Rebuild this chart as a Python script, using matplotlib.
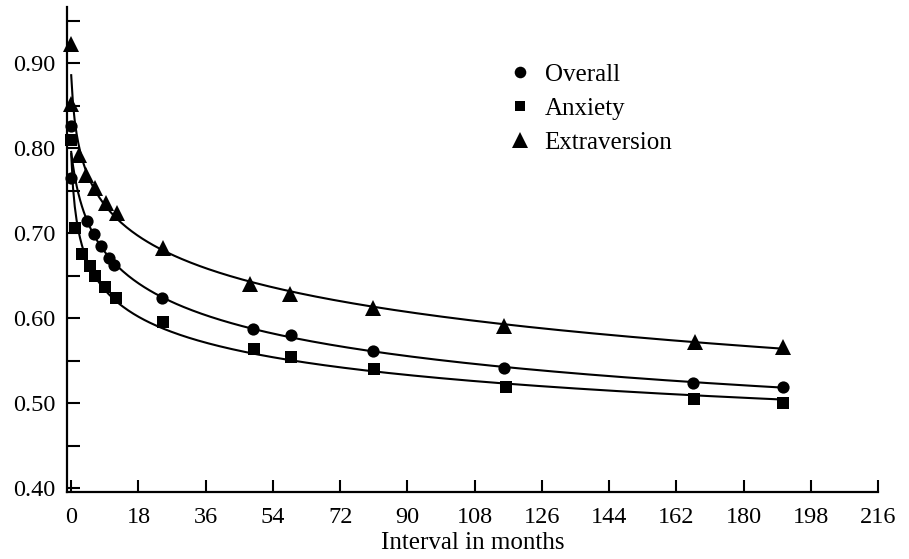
import numpy as np
import matplotlib
matplotlib.use("Agg")
import matplotlib.pyplot as plt
from matplotlib.lines import Line2D
from matplotlib.ticker import FormatStrFormatter

plt.rcParams['font.family'] = ['Liberation Serif', 'DejaVu Serif']

# ---- data ----
months_overall = [0, 0, 4.3, 6.2, 7.9, 10.2, 11.5, 24.4, 48.6, 58.8, 80.8, 116.0, 166.5, 190.5]
overall = [0.826, 0.765, 0.714, 0.699, 0.685, 0.671, 0.663, 0.6235, 0.587, 0.580, 0.562, 0.542, 0.5235, 0.519]

months_anxiety = [0, 1.0, 3.0, 4.9, 6.4, 9.1, 11.9, 24.7, 49.0, 58.8, 81.2, 116.4, 166.7, 190.5]
anxiety = [0.809, 0.706, 0.676, 0.661, 0.650, 0.637, 0.6235, 0.596, 0.564, 0.554, 0.540, 0.5195, 0.505, 0.500]

months_extra = [0, 0, 2.2, 4.0, 6.4, 9.3, 12.2, 24.5, 48.0, 58.6, 80.7, 115.9, 167.0, 190.5]
extraversion = [0.922, 0.852, 0.792, 0.769, 0.753, 0.735, 0.724, 0.682, 0.640, 0.629, 0.612, 0.591, 0.5725, 0.5666]

series_names = ["Overall", "Anxiety", "Extraversion"]
x_ticks = [0, 18, 36, 54, 72, 90, 108, 126, 144, 162, 180, 198, 216]
y_major = [0.40, 0.50, 0.60, 0.70, 0.80, 0.90]
y_minor = [0.45, 0.55, 0.65, 0.75, 0.85, 0.95]


def fit_curve(t, y):
    """Least-squares fit of y as a quadratic in log(t + c), c by grid search."""
    t = np.asarray(t, float)
    y = np.asarray(y, float)
    best = None
    for c in np.linspace(0.5, 12, 116):
        X = np.log(t + c)
        p = np.polyfit(X, y, 2)
        sse = np.sum((np.polyval(p, X) - y) ** 2)
        if best is None or sse < best[0]:
            best = (sse, p, c)
    _, p, c = best
    return lambda tt: np.polyval(p, np.log(tt + c))


fig = plt.figure(figsize=(9.09, 5.59), dpi=100)
ax = fig.add_axes([0.0734, 0.1204, 0.8925, 0.8671])

specs = [
    (months_overall, overall, 'o', 8.8),
    (months_anxiety, anxiety, 's', 8.2),
    (months_extra, extraversion, '^', 11.5),
]
for t, y, mk, ms in specs:
    f = fit_curve(t, y)
    tt = np.linspace(0, max(t), 400)
    ax.plot(tt, f(tt), color='black', lw=1.5, zorder=2)
    ax.plot(t, y, linestyle='none', marker=mk, ms=ms, color='black',
            markeredgewidth=0, zorder=3, clip_on=False)

ax.set_xlim(-1.2, 216)
ax.set_ylim(0.396, 0.966)
for s in ['top', 'right']:
    ax.spines[s].set_visible(False)
for s in ['left', 'bottom']:
    ax.spines[s].set_linewidth(1.6)

ax.set_xticks(x_ticks)
ax.set_yticks(y_major)
ax.set_yticks(y_minor, minor=True)
ax.yaxis.set_major_formatter(FormatStrFormatter('%.2f'))
ax.tick_params(axis='both', which='both', direction='in', length=9, width=1.5,
               labelsize=17.5)
ax.tick_params(axis='x', pad=11)
ax.tick_params(axis='y', pad=8)

ax.set_xlabel('Interval in months', fontsize=18, labelpad=3)

handles = [Line2D([], [], linestyle='none', marker=mk, ms=ms * 0.95, color='black',
                  markeredgewidth=0) for (_, _, mk, ms) in specs]
ax.legend(handles, series_names, loc='upper left', bbox_to_anchor=(0.5606, 0.886),
          bbox_transform=fig.transFigure, frameon=False, fontsize=18,
          handlelength=0.8, handletextpad=0.6, labelspacing=0.45,
          borderpad=0, borderaxespad=0, numpoints=1)

fig.savefig('out.png', dpi=100)
